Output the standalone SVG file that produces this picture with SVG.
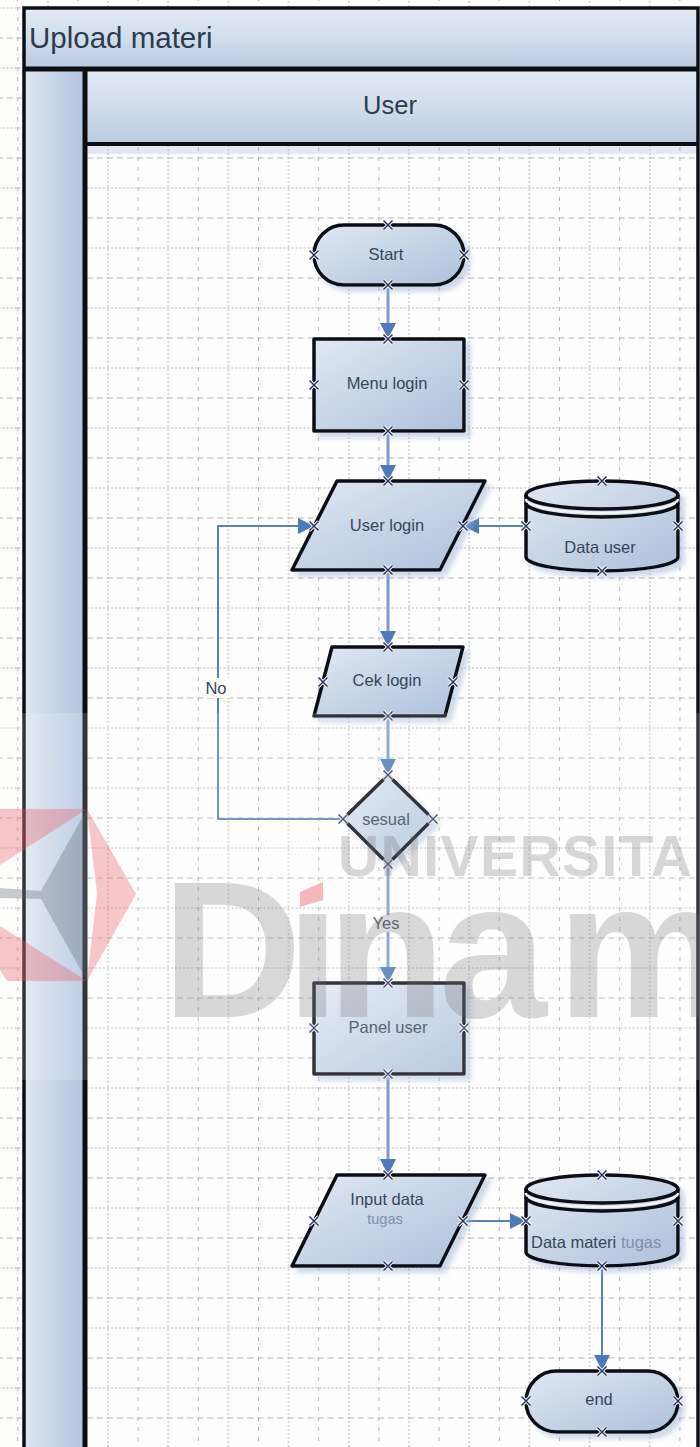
<svg xmlns="http://www.w3.org/2000/svg" width="700" height="1447" viewBox="0 0 700 1447">
<style>
.s{stroke:#0c0e14;stroke-width:3.5;stroke-linejoin:round;fill:url(#g);filter:url(#sh)}
.o{fill:none;stroke:#0c0e14;stroke-width:3.5}
.t{font-family:"Liberation Sans",Arial,sans-serif;font-size:16.5px;fill:#36465c;text-anchor:middle}
.f{fill:#7d90aa}
.c{fill:none;stroke:#7c9ccb;stroke-width:3;marker-end:url(#a)}
.n{fill:none;stroke:#5f80b5;stroke-width:2;marker-end:url(#a)}
.w{font-family:"Liberation Sans",Arial,sans-serif;font-weight:700;fill:#6b6b6b;opacity:.26}
</style>
<defs>
<linearGradient id="g" x1="0" y1="0" x2="1" y2="1"><stop offset="0" stop-color="#e0e8f3"/><stop offset="1" stop-color="#aec0da"/></linearGradient>
<linearGradient id="hd" x1="0" y1="0" x2="0" y2="1"><stop offset="0" stop-color="#e2e9f4"/><stop offset=".5" stop-color="#d2ddec"/><stop offset="1" stop-color="#bac9e0"/></linearGradient>
<linearGradient id="col" x1="0" y1="0" x2="1" y2="0"><stop offset="0" stop-color="#dfe6f0"/><stop offset="1" stop-color="#b2c4e0"/></linearGradient>
<filter id="sh" x="-15%" y="-15%" width="135%" height="135%"><feDropShadow dx="5" dy="5" stdDeviation="2.5" flood-color="#9db2d6" flood-opacity=".5"/></filter>
<pattern id="grid" patternUnits="userSpaceOnUse" x="107" y="157" width="60.2" height="60">
<path d="M1 0V60" stroke="#b4b4b4" stroke-width="1" stroke-dasharray="2 2" fill="none"/>
<path d="M31.1 0V60" stroke="#b4b4b4" stroke-width="1" stroke-dasharray="4 6" fill="none"/>
<path d="M0 1H60.2" stroke="#b4b4b4" stroke-width="1" stroke-dasharray="6 4" fill="none"/>
<path d="M0 31H60.2" stroke="#b4b4b4" stroke-width="1" stroke-dasharray="2 2" fill="none"/>
</pattern>
<marker id="a" markerUnits="userSpaceOnUse" markerWidth="16" markerHeight="16" refX="16" refY="8" orient="auto"><path d="M0 0L16 8L0 16Z" fill="#4f79b8"/></marker>
<g id="cp"><path d="M-4.5 -4.5L4.5 4.5M-4.5 4.5L4.5 -4.5" stroke="#fff" stroke-width="3.4"/><path d="M-4.5 -4.5L4.5 4.5M-4.5 4.5L4.5 -4.5" stroke="#2b3566" stroke-width="1.5"/></g>
<clipPath id="nodot"><path clip-rule="evenodd" d="M0 0H700V1447H0ZM294 860H330V908H294Z"/></clipPath>
</defs>

<rect width="700" height="1447" fill="#fdfdfb"/>
<rect x="0" y="0" width="22" height="1447" fill="url(#grid)"/>
<rect x="22" y="0" width="678" height="7" fill="url(#grid)"/>

<g id="swimlane">
<rect x="24" y="8" width="674" height="61" fill="url(#hd)"/>
<rect x="24" y="69" width="61" height="1378" fill="url(#col)"/>
<rect x="85" y="69" width="613" height="75" fill="url(#hd)"/>
<rect x="85" y="144" width="612" height="1303" fill="#fefefe"/>
<rect x="87" y="146" width="610" height="8" fill="#e6e9f5"/>
<rect x="87" y="146" width="610" height="1301" fill="url(#grid)"/>
<path d="M24 1447V8H698V1447" fill="none" stroke="#0c0e14" stroke-width="3.5"/>
<path d="M24 69H698" stroke="#0c0e14" stroke-width="5" fill="none"/>
<path d="M85 69V1447" stroke="#0c0e14" stroke-width="5" fill="none"/>
<path d="M85 144H698" stroke="#0c0e14" stroke-width="4" fill="none"/>
<text x="29" y="48" font-family="Liberation Sans, Arial, sans-serif" font-size="29.5" fill="#2c3b50">Upload materi</text>
<text x="390" y="114" font-family="Liberation Sans, Arial, sans-serif" font-size="25.5" fill="#2c3b50" text-anchor="middle">User</text>
</g>

<g id="connectors">
<path class="c" d="M388 285V339"/>
<path class="c" d="M388 431V481"/>
<path class="c" d="M388 570V647"/>
<path class="c" d="M388 716V775"/>
<path class="c" d="M388 864V983"/>
<path class="c" d="M388 1074V1175"/>
<path class="n" d="M526 526H463"/>
<path class="n" d="M343 819H218V526H314"/>
<path class="n" d="M463 1221H526"/>
<path class="n" d="M602 1266V1371"/>
<rect x="204" y="678" width="26" height="20" fill="#fefefe"/>
<text class="t" x="216" y="694">No</text>
<rect x="372" y="915" width="30" height="17" fill="#fefefe"/>
<text class="t" x="386" y="929">Yes</text>
</g>

<g id="start">
<rect class="s" x="314" y="225" width="150" height="60" rx="30"/>
<text class="t" x="386" y="260">Start</text>
<use href="#cp" x="388" y="225"/><use href="#cp" x="388" y="285"/><use href="#cp" x="314" y="255"/><use href="#cp" x="464" y="255"/>
</g>
<g id="menu-login">
<rect class="s" x="314" y="339" width="150" height="92"/>
<text class="t" x="387" y="389">Menu login</text>
<use href="#cp" x="388" y="339"/><use href="#cp" x="388" y="431"/><use href="#cp" x="314" y="385"/><use href="#cp" x="464" y="385"/>
</g>
<g id="user-login">
<path class="s" d="M337 481H485L440 570H292Z"/>
<text class="t" x="387" y="531">User login</text>
<use href="#cp" x="388" y="481"/><use href="#cp" x="388" y="570"/><use href="#cp" x="314" y="526"/><use href="#cp" x="463" y="526"/>
</g>
<g id="data-user">
<path class="s" d="M526 495V557A76 14 0 0 0 678 557V495A76 14 0 0 0 526 495Z"/>
<path class="o" d="M526 495A76 14 0 0 0 678 495"/>
<path d="M526 499A76 14 0 0 0 678 499" fill="none" stroke="#f2f4f8" stroke-width="2.5"/>
<path class="o" d="M526 503A76 14 0 0 0 678 503"/>
<text class="t" x="600" y="553">Data user</text>
<use href="#cp" x="602" y="481"/><use href="#cp" x="602" y="571"/><use href="#cp" x="526" y="526"/><use href="#cp" x="678" y="526"/>
</g>
<g id="cek-login">
<path class="s" d="M332 647H463L445 716H314Z"/>
<text class="t" x="387" y="686">Cek login</text>
<use href="#cp" x="388" y="647"/><use href="#cp" x="388" y="716"/><use href="#cp" x="323" y="682"/><use href="#cp" x="453" y="682"/>
</g>
<g id="sesual">
<path class="s" d="M388 775L433 819L388 864L343 819Z"/>
<text class="t" x="386" y="825">sesual</text>
<use href="#cp" x="388" y="775"/><use href="#cp" x="388" y="864"/><use href="#cp" x="343" y="819"/><use href="#cp" x="433" y="819"/>
</g>
<g id="panel-user">
<rect class="s" x="314" y="983" width="150" height="91"/>
<text class="t" x="388" y="1033">Panel user</text>
<use href="#cp" x="388" y="983"/><use href="#cp" x="388" y="1074"/><use href="#cp" x="314" y="1028"/><use href="#cp" x="464" y="1028"/>
</g>
<g id="input-data">
<path class="s" d="M337 1175H485L440 1266H292Z"/>
<text class="t" x="387" y="1205">Input data</text>
<text class="t f" x="385" y="1224" style="font-size:14.5px">tugas</text>
<use href="#cp" x="388" y="1175"/><use href="#cp" x="388" y="1266"/><use href="#cp" x="314" y="1221"/><use href="#cp" x="463" y="1221"/>
</g>
<g id="data-materi">
<path class="s" d="M526 1189V1252A76 14 0 0 0 678 1252V1189A76 14 0 0 0 526 1189Z"/>
<path class="o" d="M526 1189A76 14 0 0 0 678 1189"/>
<path d="M526 1193A76 14 0 0 0 678 1193" fill="none" stroke="#f2f4f8" stroke-width="2.5"/>
<path class="o" d="M526 1197A76 14 0 0 0 678 1197"/>
<text class="t" x="531" y="1248" style="text-anchor:start">Data materi <tspan class="f">tugas</tspan></text>
<use href="#cp" x="602" y="1175"/><use href="#cp" x="602" y="1266"/><use href="#cp" x="526" y="1221"/><use href="#cp" x="678" y="1221"/>
</g>
<g id="end">
<rect class="s" x="526" y="1371" width="152" height="61" rx="30.5"/>
<text class="t" x="599" y="1405">end</text>
<use href="#cp" x="602" y="1371"/><use href="#cp" x="602" y="1432"/><use href="#cp" x="526" y="1401"/><use href="#cp" x="678" y="1401"/>
</g>

<g id="watermark">
<rect x="0" y="713" width="700" height="367" fill="#fff" opacity=".16"/>
<path d="M0 809H87L0 865Z M87 809L136 894L87 981L97 893Z M0 926L87 981H7L0 970Z" fill="#e8505a" opacity=".32"/>
<path d="M87 809L41 891L0 888V898L41 899L87 981Z" fill="#5b6470" opacity=".32"/>
<text class="w" y="876" x="338" font-size="57" textLength="354" lengthAdjust="spacing">UNIVERSITA</text>
<text class="w" y="1017" x="162 286 327 439 557" font-size="194" clip-path="url(#nodot)">Dinam</text>
<path d="M300 907V892L323 882V900Z" fill="#f5b8bd"/>
</g>
</svg>
